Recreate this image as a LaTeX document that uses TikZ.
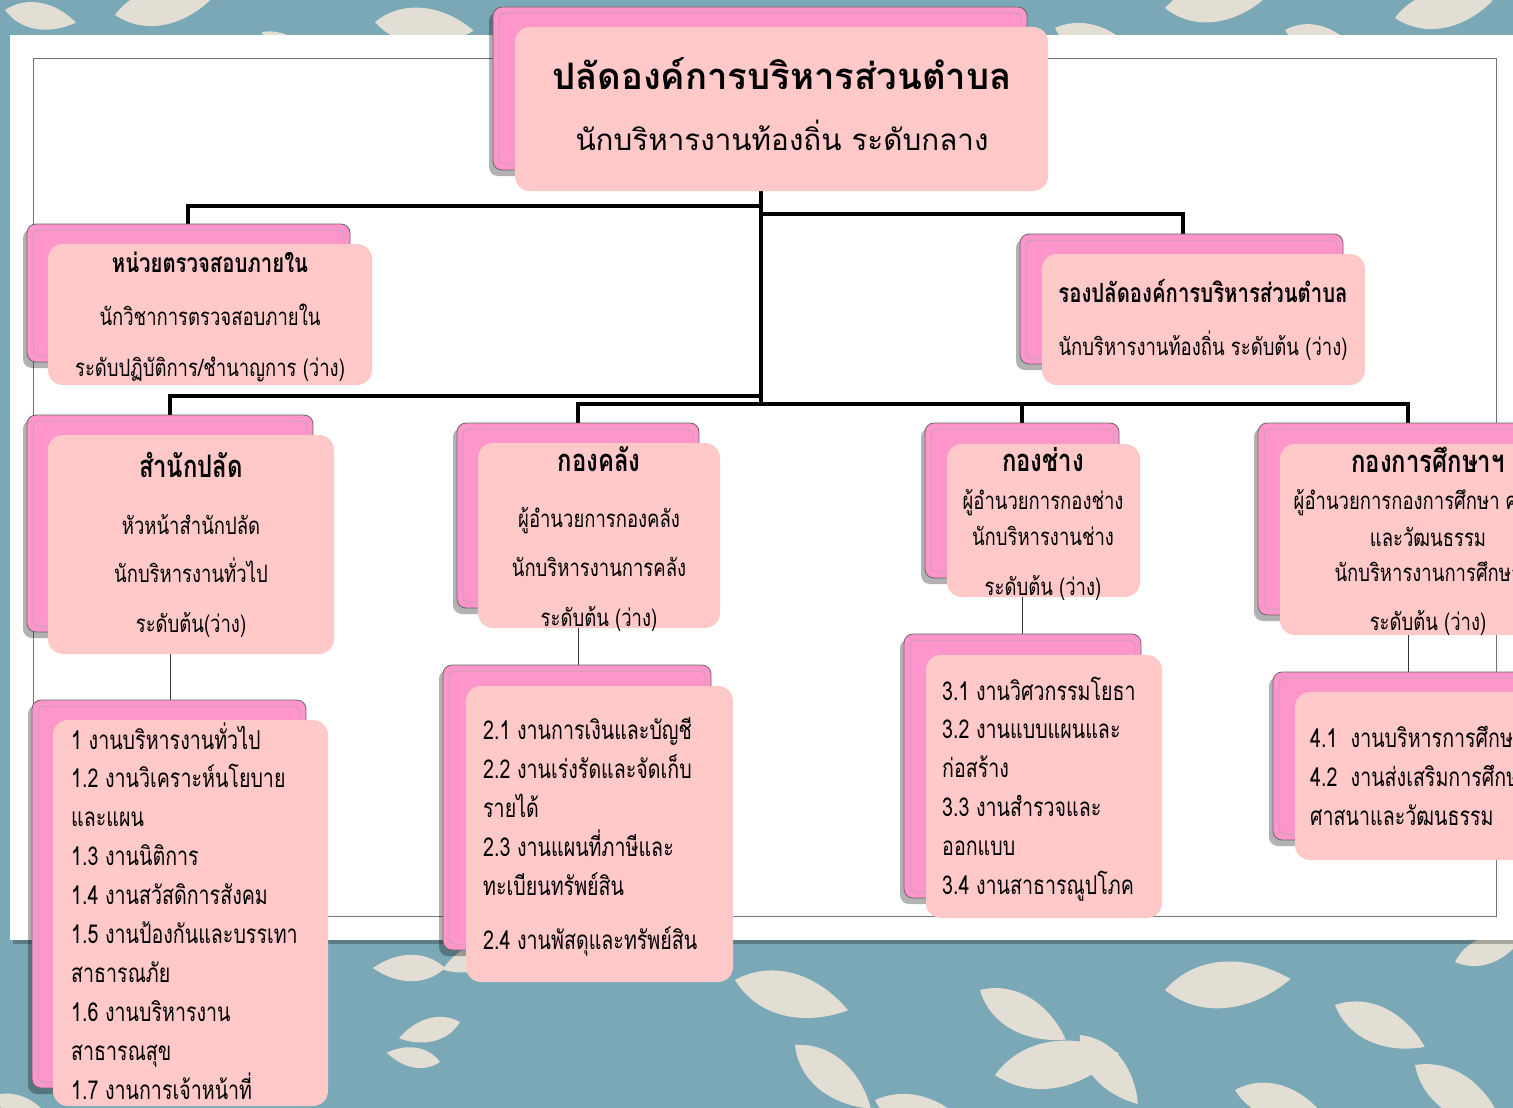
\documentclass[tikz,border=0pt]{standalone}
\usepackage{fontspec}
\newfontfamily\thaisans[Script=Thai]{Loma}
\newfontfamily\thaiA[Script=Thai,FakeStretch=0.77]{Loma}
\newfontfamily\thaiL[Script=Thai,FakeStretch=0.755]{Loma}
\definecolor{teal}{HTML}{7AA8B6}
\definecolor{leafc}{HTML}{E2DED3}
\definecolor{pinkback}{HTML}{FF96CB}
\definecolor{pinkfront}{HTML}{FFC9C9}
\tikzset{
  backb/.style={draw=black!60, line width=0.8pt, fill=pinkback, rounded corners=9pt, inner sep=0pt},
  innerl/.style={draw=black!35, line width=0.5pt},
  frontb/.style={fill=pinkfront, rounded corners=15pt, inner sep=0pt},
  trunk/.style={line width=4.5pt, line cap=rect},
  twig/.style={line width=1pt, draw=black!80},
  ttl/.style={anchor=base, inner sep=0pt, font=\thaisans\bfseries\fontsize{36.5}{42}\selectfont},
  sub/.style={anchor=base, inner sep=0pt, font=\thaisans\fontsize{29.6}{34}\selectfont},
  hd/.style={anchor=base, inner sep=0pt, font=\thaiA\bfseries\fontsize{26.4}{30}\selectfont},
  hdb/.style={anchor=base, inner sep=0pt, font=\thaiA\bfseries\fontsize{31}{36}\selectfont},
  tx/.style={anchor=base, inner sep=0pt, font=\thaiA\fontsize{24}{28}\selectfont},
  lx/.style={anchor=base west, inner sep=0pt, font=\thaiL\fontsize{26}{30}\selectfont},
}
\newcommand\leafat[4]{\fill[leafc, shift={(#1,#2)}, rotate=#3, scale=#4]
  (0,0) .. controls (25,-24) and (62,-20) .. (90,0) .. controls (62,20) and (25,24) .. (0,0);}
\newcommand\boxpair[9]{%
  \fill[black, opacity=.3, rounded corners=9pt] (#2-4,#3+5) rectangle (#4-2,#5+6);
  \node[backb, minimum width=#4-#2, minimum height=#5-#3] (#1B) at ({(#2+#4)/2},{(#3+#5)/2}) {};
  \draw[innerl, rounded corners=6pt] (#2+6,#3+6) rectangle (#4-6,#5-6);
  \node[frontb, minimum width=#8-#6, minimum height=#9-#7] (#1F) at ({(#6+#8)/2},{(#7+#9)/2}) {};
}
\begin{document}
\begin{tikzpicture}[x=1pt,y=-1pt]
\clip (0,0) rectangle (1513,1108);
% background
\fill[teal] (0,0) rectangle (1513,1108);
\leafat{5}{10}{-10}{0.8}
\leafat{115}{15}{10}{1.1}
\leafat{262}{32}{-35}{0.8}
\leafat{375}{22}{-5}{1.1}
\leafat{1055}{28}{-20}{1.0}
\leafat{1165}{8}{5}{1.1}
\leafat{1285}{30}{-15}{0.8}
\leafat{1395}{18}{10}{1.1}
\leafat{445}{968}{180}{0.8}
\leafat{460}{1022}{195}{0.7}
\leafat{440}{1062}{170}{0.6}
\leafat{510}{945}{200}{0.8}
\leafat{735}{980}{-15}{1.3}
\leafat{795}{1045}{-40}{1.1}
\leafat{875}{1100}{-20}{1.2}
\leafat{980}{990}{-30}{1.1}
\leafat{995}{1075}{10}{1.4}
\leafat{1080}{1035}{-50}{1.0}
\leafat{1165}{990}{5}{1.4}
\leafat{1235}{1090}{-15}{1.0}
\leafat{1335}{1005}{-25}{1.1}
\leafat{1415}{1065}{-35}{1.2}
\leafat{1455}{962}{20}{0.8}
\leafat{-5}{1095}{-30}{0.8}
% white panel
\fill[black, opacity=.25] (13,39) rectangle (1513,944);
\fill[white] (10,35) rectangle (1513,940);
\draw[black!55, line width=0.8pt] (33,58) rectangle (1496,916);
% connectors
\coordinate (hub) at (761,191);
\coordinate (busL) at (761,396);
\coordinate (busR) at (761,404);
\draw[trunk] (hub) -- (busR);
\draw[trunk] (761,206) -| (188,224);
\draw[trunk] (761,214) -| (1183,234);
\draw[trunk] (busL) -| (170,415);
\draw[trunk] (578,404) -- (1408,404);
\draw[trunk] (578,404) -- (578,423);
\draw[trunk] (1022,404) -- (1022,423);
\draw[trunk] (1408,404) -- (1408,423);
% boxes
\boxpair{top}{493}{7}{1027}{170}{515}{27}{1048}{191}
\boxpair{aud}{27}{224}{350}{362}{48}{244}{372}{385}
\boxpair{dep}{1020}{234}{1343}{364}{1042}{254}{1365}{385}
\boxpair{pal}{27}{415}{313}{632}{48}{435}{334}{654}
\boxpair{fin}{457}{423}{699}{608}{478}{443}{720}{628}
\boxpair{eng}{925}{423}{1119}{578}{947}{444}{1140}{597}
\boxpair{edu}{1258}{423}{1558}{615}{1280}{444}{1576}{635}
\draw[twig] (palF.south -| 170,0) -- (170,700);
\draw[twig] (finF.south -| 578,0) -- (578,665);
\draw[twig] (engF.south -| 1022,0) -- (1022,634);
\draw[twig] (eduF.south -| 1408,0) -- (1408,672);
\boxpair{la}{32}{700}{306}{1088}{53}{720}{328}{1106}
\boxpair{lb}{443}{665}{711}{950}{466}{686}{733}{982}
\boxpair{lc}{904}{634}{1141}{898}{926}{655}{1162}{918}
\boxpair{ld}{1273}{672}{1560}{840}{1295}{692}{1580}{860}
% texts
\node[ttl] (t1) at (782,89) {ปลัดองค์การบริหารส่วนตำบล};
\node[sub] (t2) at (782,150) {นักบริหารงานท้องถิ่น ระดับกลาง};
\node[hd] (a1) at (210,272) {หน่วยตรวจสอบภายใน};
\node[tx] (a2) at (210,325) {นักวิชาการตรวจสอบภายใน};
\node[tx] (a3) at (210,376) {ระดับปฏิบัติการ/ชำนาญการ (ว่าง)};
\node[hd] (d1) at (1203,302) {รองปลัดองค์การบริหารส่วนตำบล};
\node[tx] (d2) at (1203,355) {นักบริหารงานท้องถิ่น ระดับต้น (ว่าง)};
\node[hdb] (p1) at (191,477) {สำนักปลัด};
\node[tx] (p2) at (191,534) {หัวหน้าสำนักปลัด};
\node[tx] (p3) at (191,582) {นักบริหารงานทั่วไป};
\node[tx] (p4) at (191,632) {ระดับต้น(ว่าง)};
\node[hdb] (f1) at (599,471) {กองคลัง};
\node[tx] (f2) at (599,527) {ผู้อำนวยการกองคลัง};
\node[tx] (f3) at (599,576) {นักบริหารงานการคลัง};
\node[tx] (f4) at (599,626) {ระดับต้น (ว่าง)};
\node[hdb] (e1) at (1043,471) {กองช่าง};
\node[tx] (e2) at (1043,509) {ผู้อำนวยการกองช่าง};
\node[tx] (e3) at (1043,545) {นักบริหารงานช่าง};
\node[tx] (e4) at (1043,595) {ระดับต้น (ว่าง)};
\node[hdb] (s1) at (1428,472) {กองการศึกษาฯ};
\node[tx] (s2) at (1428,509) {ผู้อำนวยการกองการศึกษา ศาสนา};
\node[tx] (s3) at (1428,546) {และวัฒนธรรม};
\node[tx] (s4) at (1428,581) {นักบริหารงานการศึกษา};
\node[tx] (s5) at (1428,630) {ระดับต้น (ว่าง)};
\foreach \t [count=\i] in {1 งานบริหารงานทั่วไป, 1.2 งานวิเคราะห์นโยบาย, และแผน, 1.3 งานนิติการ, 1.4 งานสวัสดิการสังคม, 1.5 งานป้องกันและบรรเทา, สาธารณภัย, 1.6 งานบริหารงาน, สาธารณสุข, 1.7 งานการเจ้าหน้าที่}
  \node[lx] (la\i) at (71,{749+(\i-1)*38.9}) {\t};
\foreach \t [count=\i] in {2.1 งานการเงินและบัญชี, 2.2 งานเร่งรัดและจัดเก็บ, รายได้, 2.3 งานแผนที่ภาษีและ, ทะเบียนทรัพย์สิน}
  \node[lx] (lb\i) at (483,{739+(\i-1)*39}) {\t};
\node[lx] (lb6) at (483,949) {2.4 งานพัสดุและทรัพย์สิน};
\foreach \t [count=\i] in {3.1 งานวิศวกรรมโยธา, 3.2 งานแบบแผนและ, ก่อสร้าง, 3.3 งานสำรวจและ, ออกแบบ, 3.4 งานสาธารณูปโภค}
  \node[lx] (lc\i) at (942,{700+(\i-1)*38.8}) {\t};
\foreach \t [count=\i] in {4.1\ \ งานบริหารการศึกษา, 4.2\ \ งานส่งเสริมการศึกษา, ศาสนาและวัฒนธรรม}
  \node[lx] (ld\i) at (1310,{747+(\i-1)*39}) {\t};
\end{tikzpicture}
\end{document}
